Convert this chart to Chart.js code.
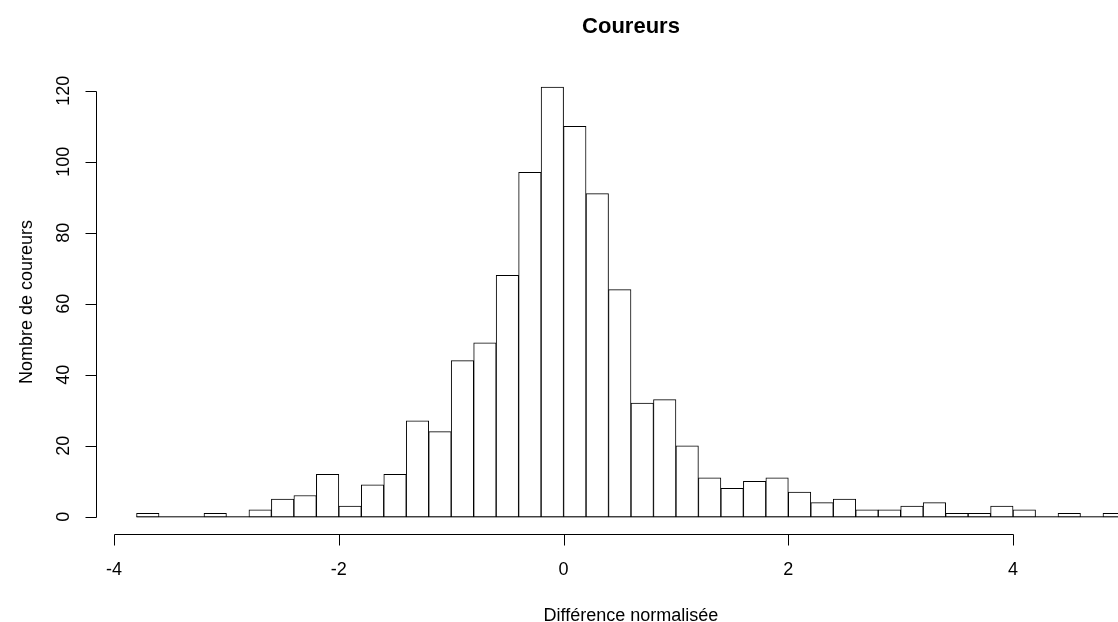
<!DOCTYPE html>
<html>
<head>
<meta charset="utf-8">
<script src="https://cdn.jsdelivr.net/npm/chart.js@4/dist/chart.umd.min.js"></script>
<style>
  html, body { margin: 0; padding: 0; background: #fff; overflow: hidden; }
  #wrap { width: 1200px; height: 622px; }
</style>
</head>
<body>
<div id="wrap"><canvas id="histChart"></canvas></div>
<script>
// histogram bins (R hist, width 0.2)
const binEdges = [-3.8, -3.6, -3.4, -3.2, -3.0, -2.8, -2.6, -2.4, -2.2, -2.0,
                  -1.8, -1.6, -1.4, -1.2, -1.0, -0.8, -0.6, -0.4, -0.2, 0.0,
                  0.2, 0.4, 0.6, 0.8, 1.0, 1.2, 1.4, 1.6, 1.8, 2.0,
                  2.2, 2.4, 2.6, 2.8, 3.0, 3.2, 3.4, 3.6, 3.8, 4.0,
                  4.2, 4.4, 4.6, 4.8, 5.0];
const counts = [1, 0, 0, 1, 0, 2, 5, 6, 12, 3,
                9, 12, 27, 24, 44, 49, 68, 97, 121, 110,
                91, 64, 32, 33, 20, 11, 8, 10, 11, 7,
                4, 5, 2, 2, 3, 4, 1, 1, 3, 2,
                0, 1, 0, 1];
const xTicks = [-4, -2, 0, 2, 4];
const yTicks = [0, 20, 40, 60, 80, 100, 120];

const chartTitle = 'Coureurs';
const xTitle = 'Différence normalisée';
const yTitle = 'Nombre de coureurs';

const FONT = '"Liberation Sans", Arial, sans-serif';

const bars = counts.map((c, i) => ({ x: (binEdges[i] + binEdges[i + 1]) / 2, y: c }));
const baseline = [
    { x: binEdges[0], y: 0 },
    { x: binEdges[binEdges.length - 1], y: 0 }
];

// R style axes: offset lines that only span the tick range
const rAxes = {
    id: 'rAxes',
    afterDraw(chart) {
        const ctx = chart.ctx;
        const a = chart.chartArea;
        const x = chart.scales.x;
        const y = chart.scales.y;
        ctx.save();
        ctx.strokeStyle = '#000';
        ctx.fillStyle = '#000';
        ctx.lineWidth = 1;

        // x axis
        const yb = Math.round(a.bottom) + 0.5;
        ctx.beginPath();
        ctx.moveTo(Math.round(x.getPixelForValue(xTicks[0])) + 0.5, yb);
        ctx.lineTo(Math.round(x.getPixelForValue(xTicks[xTicks.length - 1])) + 0.5, yb);
        xTicks.forEach(t => {
            const px = Math.round(x.getPixelForValue(t)) + 0.5;
            ctx.moveTo(px, yb);
            ctx.lineTo(px, yb + 11);
        });
        ctx.stroke();
        ctx.font = '18px ' + FONT;
        ctx.textAlign = 'center';
        ctx.textBaseline = 'alphabetic';
        xTicks.forEach(t => {
            ctx.fillText(String(t), x.getPixelForValue(t), a.bottom + 41);
        });

        // y axis
        const xl = Math.round(a.left) - 0.5;
        ctx.beginPath();
        ctx.moveTo(xl, Math.round(y.getPixelForValue(yTicks[0])) + 0.5);
        ctx.lineTo(xl, Math.round(y.getPixelForValue(yTicks[yTicks.length - 1])) + 0.5);
        yTicks.forEach(t => {
            const py = Math.round(y.getPixelForValue(t)) + 0.5;
            ctx.moveTo(xl, py);
            ctx.lineTo(xl - 11, py);
        });
        ctx.stroke();
        yTicks.forEach(t => {
            ctx.save();
            ctx.translate(a.left - 28, y.getPixelForValue(t));
            ctx.rotate(-Math.PI / 2);
            ctx.fillText(String(t), 0, 0);
            ctx.restore();
        });

        // axis titles
        ctx.fillText(xTitle, (a.left + a.right) / 2, a.bottom + 87);
        ctx.save();
        ctx.translate(a.left - 65, (a.top + a.bottom) / 2);
        ctx.rotate(-Math.PI / 2);
        ctx.fillText(yTitle, 0, 0);
        ctx.restore();

        // main title
        ctx.font = 'bold 22px ' + FONT;
        ctx.fillText(chartTitle, (a.left + a.right) / 2, a.top - 37);
        ctx.restore();
    }
};

new Chart(document.getElementById('histChart'), {
    type: 'bar',
    data: {
        datasets: [{
            type: 'bar',
            data: bars,
            backgroundColor: '#fff',
            borderColor: '#000',
            borderWidth: 1,
            borderSkipped: false,
            barPercentage: 1,
            categoryPercentage: 1
        }, {
            type: 'line',
            data: baseline,
            borderColor: '#000',
            borderWidth: 1,
            pointRadius: 0
        }]
    },
    options: {
        responsive: true,
        maintainAspectRatio: false,
        animation: false,
        devicePixelRatio: 1,
        layout: { padding: { left: 97, right: 35, top: 70, bottom: 88 } },
        plugins: {
            legend: { display: false },
            title: { display: false },
            tooltip: { enabled: false }
        },
        scales: {
            x: {
                type: 'linear',
                min: -4.152,
                max: 5.352,
                offset: false,
                display: false
            },
            y: {
                min: -4.84,
                max: 125.84,
                display: false
            }
        }
    },
    plugins: [rAxes]
});
</script>
</body>
</html>
